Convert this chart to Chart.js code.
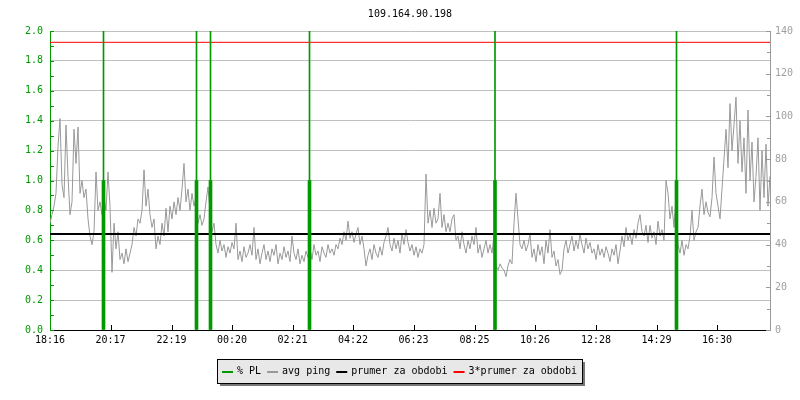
<!DOCTYPE html>
<html>
<head>
<meta charset="utf-8">
<title>109.164.90.198</title>
<script src="https://cdn.jsdelivr.net/npm/chart.js@4.4.1/dist/chart.umd.min.js"></script>
<style>
  html, body { margin: 0; padding: 0; background: #fff; }
</style>
</head>
<body>
<canvas id="pingChart" width="800" height="400"></canvas>
<script>
// data
const chartTitle = '109.164.90.198';
const startLabel = '18:16';
const spanMinutes = 1440;
const tickLabels = ['18:16', '20:17', '22:19', '00:20', '02:21', '04:22', '06:23', '08:25', '10:26', '12:28', '14:29', '16:30'];

// avg ping [ms], one sample every 4 minutes from 18:16
const pingStepMinutes = 4;
const pingValues = [
  50, 54, 58, 64, 86, 99, 68, 62, 96, 72,
  54, 60, 94, 78, 95, 64, 70, 62, 66, 52,
  44, 40, 46, 74, 56, 60, 54, 62, 56, 74,
  58, 27, 50, 38, 46, 33, 36, 31, 38, 32,
  36, 40, 48, 44, 52, 50, 56, 75, 58, 66,
  54, 48, 52, 38, 44, 40, 50, 44, 57, 46,
  58, 52, 60, 54, 62, 56, 66, 78, 60, 66,
  56, 64, 58, 62, 50, 54, 49, 52, 60, 67,
  56, 46, 50, 40, 36, 42, 37, 40, 34, 39,
  36, 41, 38, 50, 33, 37, 32, 39, 34, 36,
  40, 35, 48, 33, 38, 31, 36, 40, 33, 37,
  32, 38, 35, 40, 31, 36, 33, 39, 34, 37,
  32, 44, 36, 33, 38, 31, 35, 32, 37, 34,
  38, 33, 40, 35, 37, 32, 39, 36, 34, 40,
  36, 38, 35, 40, 38, 43, 40, 46, 42, 51,
  43, 46, 41, 45, 48, 40, 44, 38, 30, 35,
  38, 33, 40, 36, 34, 39, 35, 41, 44, 48,
  40, 37, 43, 38, 42, 36, 45, 40, 47, 41,
  37, 40, 35, 39, 34, 38, 36, 40, 73, 50,
  56, 48, 57, 50, 52, 64, 48, 54, 46, 50,
  46, 52, 54, 42, 44, 38, 46, 40, 36, 42,
  38, 44, 40, 48, 36, 40, 34, 38, 42, 36,
  40, 36, 44, 30, 28, 31, 29, 28, 25, 30,
  33, 31, 50, 64, 52, 40, 38, 42, 37, 40,
  45, 34, 38, 32, 40, 35, 39, 31, 42, 36,
  47, 34, 37, 30, 33, 26, 28, 38, 42, 36,
  40, 44, 37, 42, 38, 45, 40, 36, 43, 38,
  41, 36, 38, 33, 40, 35, 38, 34, 39, 36,
  32, 38, 35, 40, 31, 37, 44, 39, 48, 42,
  45, 40, 47, 43, 50, 54, 46, 44, 49, 41,
  49, 43, 46, 40, 51, 44, 47, 42, 70, 64,
  52, 58, 48, 62, 40, 36, 42, 35, 40, 38,
  44, 56, 42, 46, 48, 58, 66, 54, 60, 55,
  53, 62, 81, 64, 58, 52, 66, 80, 94, 76,
  106, 84, 96, 109, 78, 98, 74, 90, 64, 103,
  70, 88, 60, 72, 90, 56, 84, 62, 87, 58,
  72
];

// packet loss events (minutes after 18:16) and % PL
const plMinutes = [107, 293, 321, 519, 890, 1253];
const plValues = [1.0, 1.0, 1.0, 1.0, 1.0, 1.0];
const plMarkValues = [2.0, 2.0, 2.0, 2.0, 2.0, 2.0];

const prumer = 44.9;   // prumer za obdobi [ms]

// barvy
const green = '#009900';
const gray = '#999999';
const gridGray = '#c0c0c0';
const font = "'DejaVu Sans Mono', monospace";

// minuty od zacatku pro popisky osy x
const toMin = s => { const p = s.split(':').map(Number); return p[0] * 60 + p[1]; };
const tickMinutes = tickLabels.map(l => (toMin(l) - toMin(startLabel) + 1440) % 1440);

const pingData = pingValues.map((v, i) => ({ x: i * pingStepMinutes, y: v }));
const plData = plMinutes.map((m, i) => ({ x: m, y: plValues[i] }));
const plMarkData = plMinutes.map((m, i) => ({ x: m, y: plMarkValues[i] }));

// male vnitrni carky na osach
const innerTicks = {
  id: 'innerTicks',
  afterDatasetsDraw(chart) {
    const { ctx, chartArea: a, scales } = chart;
    ctx.save();
    ctx.lineWidth = 1;
    ctx.strokeStyle = '#000';
    tickMinutes.forEach(v => {
      const px = Math.round(scales.x.getPixelForValue(v)) + 0.5;
      if (px < a.left + 2) return;
      ctx.beginPath(); ctx.moveTo(px, a.bottom); ctx.lineTo(px, a.bottom - 5); ctx.stroke();
    });
    ctx.strokeStyle = green;
    for (let v = 0; v <= 2.0001; v += 0.1) {
      const py = Math.round(scales.y.getPixelForValue(v)) + 0.5;
      ctx.beginPath(); ctx.moveTo(a.left, py); ctx.lineTo(a.left + 4, py); ctx.stroke();
    }
    ctx.strokeStyle = gray;
    for (let v = 0; v <= 140; v += 10) {
      const py = Math.round(scales.y1.getPixelForValue(v)) + 0.5;
      const len = v % 20 === 0 ? 4 : 3;
      ctx.beginPath(); ctx.moveTo(a.right - len, py); ctx.lineTo(a.right, py); ctx.stroke();
    }
    ctx.restore();
  }
};

// legenda v ramecku se stinem
const boxLegend = {
  id: 'boxLegend',
  afterDraw(chart) {
    const ctx = chart.ctx;
    const items = chart.data.datasets.filter(d => d.inLegend);
    ctx.save();
    ctx.font = '10px ' + font;
    const sw = 11, gap = 4, itemGap = 6, pad = 5, h = 24;
    let total = pad * 2 - itemGap;
    items.forEach(d => { total += sw + gap + ctx.measureText(d.label).width + itemGap; });
    total = Math.round(total);
    const x0 = Math.round(chart.width / 2 - total / 2) - 1;
    const y0 = Math.round(chart.chartArea.bottom) + 29;
    ctx.fillStyle = '#777777';
    ctx.fillRect(x0 + 3, y0 + 3, total, h);
    ctx.fillStyle = '#e8e8e8';
    ctx.fillRect(x0, y0, total, h);
    ctx.strokeStyle = '#000';
    ctx.lineWidth = 1;
    ctx.strokeRect(x0 + 0.5, y0 + 0.5, total, h);
    let x = x0 + pad;
    ctx.textBaseline = 'middle';
    items.forEach(d => {
      ctx.fillStyle = d.borderColor;
      ctx.fillRect(x, y0 + 12, sw, 2);
      x += sw + gap;
      ctx.fillStyle = '#000';
      ctx.fillText(d.label, x, y0 + 12);
      x += ctx.measureText(d.label).width + itemGap;
    });
    ctx.restore();
  }
};

Chart.defaults.font.family = font;
Chart.defaults.font.size = 10;

new Chart(document.getElementById('pingChart'), {
  type: 'line',
  data: {
    datasets: [
      {
        type: 'bar', label: '% PL', inLegend: true, data: plData, yAxisID: 'y',
        backgroundColor: green, borderColor: green, borderWidth: 0,
        barThickness: 3, grouped: false, order: 0
      },
      {
        type: 'bar', label: 'PL mark', inLegend: false, data: plMarkData, yAxisID: 'y',
        backgroundColor: green, borderColor: green, borderWidth: 0,
        barThickness: 1, grouped: false, order: 1
      },
      {
        label: 'avg ping', inLegend: true, data: pingData, yAxisID: 'y1',
        borderColor: gray, borderWidth: 1, pointRadius: 0, order: 4
      },
      {
        label: 'prumer za obdobi', inLegend: true, yAxisID: 'y1',
        data: [{ x: 0, y: prumer }, { x: spanMinutes, y: prumer }],
        borderColor: '#000', borderWidth: 2, pointRadius: 0, order: 3
      },
      {
        label: '3*prumer za obdobi', inLegend: true, yAxisID: 'y1',
        data: [{ x: 0, y: 3 * prumer }, { x: spanMinutes, y: 3 * prumer }],
        borderColor: '#ff0000', borderWidth: 1, pointRadius: 0, order: 2
      }
    ]
  },
  options: {
    responsive: false,
    animation: false,
    layout: { padding: 0 },
    plugins: {
      legend: { display: false },
      tooltip: { enabled: false },
      title: {
        display: true, text: chartTitle, color: '#000', fullSize: false,
        font: { size: 10, weight: 'normal' }, padding: { top: 8, bottom: 11 }
      }
    },
    scales: {
      x: {
        type: 'linear', min: 0, max: spanMinutes, offset: false,
        afterBuildTicks: axis => { axis.ticks = tickMinutes.map(v => ({ value: v })); },
        afterFit: axis => { axis.height = 70; },
        ticks: {
          color: '#000', padding: 4, autoSkip: false, maxRotation: 0,
          callback: (v, i) => tickLabels[i]
        },
        grid: { display: false, drawTicks: false },
        border: { color: '#000', width: 1 }
      },
      y: {
        position: 'left', min: 0, max: 2.0,
        afterFit: axis => { axis.width = 50; },
        ticks: { stepSize: 0.2, color: green, padding: 7, callback: v => v.toFixed(1) },
        grid: { color: gridGray, drawTicks: false },
        border: { color: green, width: 1 }
      },
      y1: {
        position: 'right', min: 0, max: 140,
        afterFit: axis => { axis.width = 30; },
        ticks: { stepSize: 20, color: '#a0a0a0', padding: 5 },
        grid: { display: false, drawTicks: false },
        border: { color: gray, width: 1 }
      }
    }
  },
  plugins: [innerTicks, boxLegend]
});
</script>
</body>
</html>
